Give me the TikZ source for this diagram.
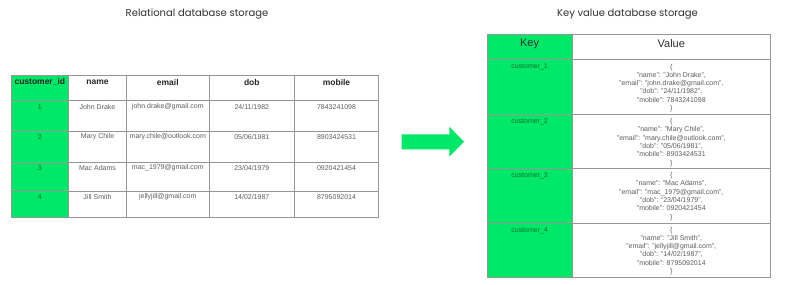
\documentclass[tikz,border=0pt]{standalone}
\usepackage{fontspec}
\setmainfont{Liberation Sans}
\newfontfamily\titlefont{Poppins}
\definecolor{kvgreen}{RGB}{0,232,104}
\definecolor{gridgray}{RGB}{150,150,150}
\definecolor{datagray}{RGB}{95,95,95}
\definecolor{keygreen}{RGB}{20,110,50}
\definecolor{titlegray}{RGB}{50,50,50}
\begin{document}
\begin{tikzpicture}[x=1pt,y=-1pt,
  gridline/.style={draw=gridgray,line width=0.8pt},
  title/.style={font=\titlefont\fontsize{10}{12}\selectfont,text=titlegray,inner sep=0pt},
  headtxt/.style={font=\bfseries\fontsize{8.5}{10}\selectfont,text=black!85,inner sep=0pt},
  datatxt/.style={font=\fontsize{7}{8.3}\selectfont,text=datagray,inner sep=0pt},
  idtxt/.style={font=\fontsize{7}{8.3}\selectfont,text=keygreen,inner sep=0pt},
  kvhead/.style={font=\fontsize{11}{13}\selectfont,text=titlegray,inner sep=0pt},
  valtxt/.style={font=\fontsize{7}{8.3}\selectfont,text=datagray,inner sep=0pt,align=center}]
\useasboundingbox[fill=white] (0,0) rectangle (799,284);

% titles
\node[title] (t1) at (197,14) {Relational database storage};
\node[title] (t2) at (627.5,14) {Key value database storage};

% ---------------- relational table
\fill[kvgreen] (11,75) rectangle (68.7,217);
\foreach \x in {68.7,126.3,209.3,294.3}
  \draw[gridline] (\x,75) -- (\x,217);
\foreach \y in {100.7,131,162,191}
  \draw[gridline] (11,\y) -- (378.7,\y);
\draw[gridline] (11,75) rectangle (378.7,217);

\node[headtxt] (h1) at (39.8,82.3) {customer\_id};
\node[headtxt] (h2) at (97.5,82.3) {name};
\node[headtxt] (h3) at (167.8,82.3) {email};
\node[headtxt] (h4) at (251.8,82.3) {dob};
\node[headtxt] (h5) at (336.5,82.3) {mobile};

\node[idtxt] (r1c1) at (39.8,106.7) {1};
\node[datatxt] (r1c2) at (97.5,106.7) {John Drake};
\node[datatxt] (r1c3) at (167.8,106.7) {john.drake@gmail.com};
\node[datatxt] (r1c4) at (251.8,106.7) {24/11/1982};
\node[datatxt] (r1c5) at (336.5,106.7) {7843241098};

\node[idtxt] (r2c1) at (39.8,137) {2};
\node[datatxt] (r2c2) at (97.5,137) {Mary Chile};
\node[datatxt] (r2c3) at (167.8,137) {mary.chile@outlook.com};
\node[datatxt] (r2c4) at (251.8,137) {05/06/1981};
\node[datatxt] (r2c5) at (336.5,137) {8903424531};

\node[idtxt] (r3c1) at (39.8,168) {3};
\node[datatxt] (r3c2) at (97.5,168) {Mac Adams};
\node[datatxt] (r3c3) at (167.8,168) {mac\_1979@gmail.com};
\node[datatxt] (r3c4) at (251.8,168) {23/04/1979};
\node[datatxt] (r3c5) at (336.5,168) {0920421454};

\node[idtxt] (r4c1) at (39.8,197) {4};
\node[datatxt] (r4c2) at (97.5,197) {Jill Smith};
\node[datatxt] (r4c3) at (167.8,197) {jellyjill@gmail.com};
\node[datatxt] (r4c4) at (251.8,197) {14/02/1987};
\node[datatxt] (r4c5) at (336.5,197) {8795092014};

% ---------------- arrow
\fill[kvgreen] (401.7,134.3) -- (449.3,134.3) -- (449.3,126.7) -- (464,141.7)
  -- (449.3,156.7) -- (449.3,149.3) -- (401.7,149.3) -- cycle;

% ---------------- key value table
\fill[kvgreen] (487.3,34) rectangle (572,277.7);
\draw[gridline] (572,34) -- (572,277.7);
\foreach \y in {59.3,114.3,168.3,223.3}
  \draw[gridline] (487.3,\y) -- (770.7,\y);
\draw[gridline] (487.3,34) rectangle (770.7,277.7);

\node[kvhead] (kh) at (529.6,44) {Key};
\node[kvhead] (vh) at (671.3,44) {Value};

\node[idtxt] (k1) at (529.6,66.7) {customer\_1};
\node[idtxt] (k2) at (529.6,121.5) {customer\_2};
\node[idtxt] (k3) at (529.6,175.5) {customer\_3};
\node[idtxt] (k4) at (529.6,230.5) {customer\_4};

\node[valtxt] (v1) at (671.3,88) {\{\\"name": "John Drake",\\"email": "john.drake@gmail.com",\\"dob": "24/11/1982",\\"mobile": 7843241098\\\}};
\node[valtxt] (v2) at (671.3,142.5) {\{\\"name": "Mary Chile",\\"email": "mary.chile@outlook.com",\\"dob": "05/06/1981",\\"mobile": 8903424531\\\}};
\node[valtxt] (v3) at (671.3,196.5) {\{\\"name": "Mac Adams",\\"email": "mac\_1979@gmail.com",\\"dob": "23/04/1979",\\"mobile": 0920421454\\\}};
\node[valtxt] (v4) at (671.3,251) {\{\\"name": "Jill Smith",\\"email": "jellyjill@gmail.com",\\"dob": "14/02/1987",\\"mobile": 8795092014\\\}};
\end{tikzpicture}
\end{document}
